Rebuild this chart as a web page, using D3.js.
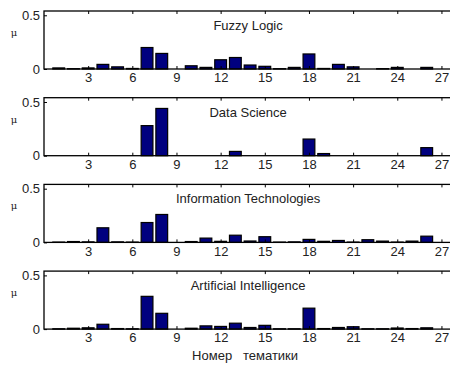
<html>
<head>
<meta charset="UTF-8"/>
<script src="https://d3js.org/d3.v7.min.js"></script>
<style>
body { margin: 0; background: #fff; }
svg text { font-family: 'Liberation Sans', Arial, sans-serif; fill: #222; }
</style>
</head>
<body>
<svg id='big' width=450 height=365></svg>
<script>
'use strict';

// topic numbers 1..27
var topics = d3.range(1, 28);
var xTicks = [3, 6, 9, 12, 15, 18, 21, 24, 27];
var yTicks = [0, 0.5];
var titles = ['Fuzzy Logic', 'Data Science', 'Information Technologies', 'Artificial Intelligence'];

var fuzzyLogic = [0.01, 0.003, 0.01, 0.043, 0.02, 0.005, 0.2, 0.145, 0, 0.03,
	0.015, 0.086, 0.107, 0.037, 0.025, 0.003, 0.015, 0.14, 0.005, 0.043,
	0.02, 0, 0.003, 0.015, 0, 0.015, 0];
var dataScience = [0, 0, 0, 0, 0, 0, 0.28, 0.44, 0, 0,
	0, 0, 0.04, 0, 0, 0, 0, 0.155, 0.02, 0,
	0, 0, 0, 0, 0, 0.075, 0];
var infoTech = [0.003, 0.008, 0.005, 0.136, 0.005, 0.003, 0.185, 0.26, 0, 0.008,
	0.04, 0.01, 0.067, 0.013, 0.053, 0.003, 0.005, 0.028, 0.01, 0.018,
	0.003, 0.025, 0.012, 0.003, 0.012, 0.058, 0];
var artIntel = [0.003, 0.008, 0.012, 0.045, 0.005, 0.003, 0.305, 0.147, 0, 0.008,
	0.03, 0.025, 0.055, 0.015, 0.035, 0.003, 0.003, 0.195, 0.005, 0.015,
	0.022, 0.003, 0.003, 0.01, 0.005, 0.012, 0];

var series = [fuzzyLogic, dataScience, infoTech, artIntel];

var svg = d3.select('#big');
var left = 44, unit = 14.72;
var panelH = 58, panelTop = 11, panelStep = 86.7;
var font = "'Liberation Sans', Arial, sans-serif";

var sx = d3.scaleLinear().domain([0, 28]).range([left, left + 28 * unit]);

function drawPanel(values, title, i){
	var top = panelTop + i * panelStep;
	var bottom = top + panelH;
	var sy = d3.scaleLinear().domain([0, 0.54]).range([bottom, top]);
	var g = svg.append('g').attr('class', 'panel');
	var bw = 0.8 * unit;

	g.selectAll('.bar')
	.data(values)
	.enter()
	.append('rect')
	.attr('class', 'bar')
	.attr('x', function(d, j){ return sx(topics[j]) - bw / 2; })
	.attr('width', bw)
	.attr('y', function(d){ return sy(d); })
	.attr('height', function(d){ return sy(0) - sy(d); })
	.attr('fill', function(d){ return d > 0 ? '#00007f' : 'none'; })
	.attr('stroke', function(d){ return d > 0 ? '#000' : 'none'; })
	.attr('stroke-width', 1.2);

	// bottom axis, ticks pointing inward
	var xAxis = d3.axisBottom(sx).tickValues(xTicks).tickSizeInner(-3).tickSizeOuter(0).tickPadding(4);
	var ax = g.append('g').attr('transform', 'translate(0,' + bottom + ')').call(xAxis);
	ax.selectAll('text').attr('font-size', 13).style('font-family', font).attr('fill', '#222');

	var xTop = d3.axisTop(sx).tickValues(xTicks).tickSizeInner(-3).tickSizeOuter(0).tickFormat('');
	g.append('g').attr('transform', 'translate(0,' + top + ')').call(xTop);

	var yAxis = d3.axisLeft(sy).tickValues(yTicks).tickSizeInner(-3).tickSizeOuter(0).tickPadding(4)
		.tickFormat(function(d){ return d === 0 ? '0' : d3.format('.1f')(d); });
	var ay = g.append('g').attr('transform', 'translate(' + left + ',0)').call(yAxis);
	ay.selectAll('text').attr('font-size', 13).style('font-family', font).attr('fill', '#222');

	svg.selectAll('.domain').remove();

	g.append('rect')
	.attr('x', left)
	.attr('y', top)
	.attr('width', sx(28) - left)
	.attr('height', panelH)
	.attr('fill', 'none')
	.attr('stroke', '#000')
	.attr('stroke-width', 1.3);

	g.append('text')
	.attr('x', sx(14) - 2)
	.attr('y', top + 19)
	.attr('text-anchor', 'middle')
	.attr('font-size', 13)
	.text(title);

	g.append('text')
	.attr('x', 14)
	.attr('y', top + 25)
	.attr('text-anchor', 'middle')
	.attr('font-size', 10)
	.style('font-family', "'DejaVu Serif', serif")
	.text('\u03bc');
}

for(var i = 0; i < series.length; i++){
	drawPanel(series[i], titles[i], i);
}

svg.append('text')
.attr('x', sx(14) - 5)
.attr('y', 360)
.attr('text-anchor', 'middle')
.attr('font-size', 13)
.style('white-space', 'pre')
.text('Номер   тематики');

</script>
</body>
</html>
